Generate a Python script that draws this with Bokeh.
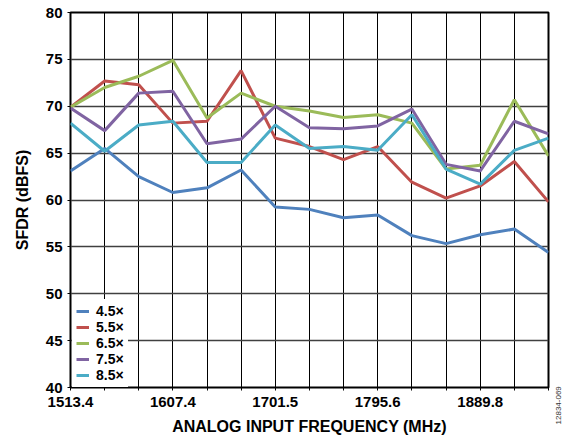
import math
from bokeh.plotting import figure
from bokeh.models import (FixedTicker, Legend, LegendItem, Range1d, Label)
from bokeh.embed import file_html
from bokeh.resources import INLINE

freq = [1513.4, 1544.8, 1576.1, 1607.4, 1638.8, 1670.1, 1701.5, 1732.9,
        1764.2, 1795.6, 1827.0, 1858.4, 1889.8, 1921.1, 1952.5]
x_tick_labels = ["1513.4", "", "", "1607.4", "", "", "1701.5", "", "",
                 "1795.6", "", "", "1889.8", "", ""]
y_ticks = [40, 45, 50, 55, 60, 65, 70, 75, 80]

series_names = ["4.5×", "5.5×", "6.5×", "7.5×", "8.5×"]
s45 = [63.1, 65.5, 62.5, 60.8, 61.3, 63.2, 59.25, 59.0, 58.1, 58.4, 56.2, 55.35, 56.3, 56.9, 54.4]
s55 = [69.9, 72.7, 72.3, 68.2, 68.4, 73.8, 66.6, 65.7, 64.3, 65.7, 61.9, 60.2, 61.5, 64.1, 59.8]
s65 = [69.9, 72.0, 73.2, 74.9, 68.75, 71.4, 70.0, 69.5, 68.8, 69.1, 68.2, 63.3, 63.7, 70.7, 64.7]
s75 = [69.8, 67.4, 71.4, 71.6, 66.0, 66.5, 70.0, 67.7, 67.6, 67.9, 69.7, 63.8, 63.1, 68.4, 67.05]
s85 = [68.2, 65.2, 68.0, 68.4, 64.0, 64.0, 68.0, 65.5, 65.7, 65.3, 69.1, 63.3, 61.7, 65.3, 66.6]
colors = ["#4F81BD", "#C0504D", "#9BBB59", "#8064A2", "#4BACC6"]

FONT = "Liberation Sans"

p = figure(width=569, height=442, output_backend="svg", toolbar_location=None,
           x_range=Range1d(freq[0], freq[-1]), y_range=Range1d(40, 80),
           min_border_left=70, min_border_right=21, min_border_top=12,
           min_border_bottom=55)

renderers = []
for name, ys, c in zip(series_names, [s45, s55, s65, s75, s85], colors):
    r = p.line(freq, ys, line_color=c, line_width=3)
    renderers.append(r)

p.outline_line_color = "black"
p.outline_line_width = 2
p.background_fill_color = "white"
p.border_fill_color = "white"

p.xaxis.ticker = FixedTicker(ticks=freq)
p.xaxis.major_label_overrides = {f: lab for f, lab in zip(freq, x_tick_labels)}
p.yaxis.ticker = FixedTicker(ticks=y_ticks)

for ax in (p.xaxis, p.yaxis):
    ax.major_label_text_font = FONT
    ax.major_label_text_font_style = "bold"
    ax.major_label_text_font_size = "15px"
    ax.major_label_text_color = "black"
    ax.axis_label_text_font = FONT
    ax.axis_label_text_font_style = "bold"
    ax.axis_label_text_font_size = "16px"
    ax.axis_label_text_color = "black"
    ax.major_tick_in = 0
    ax.major_tick_out = 3
    ax.major_tick_line_color = "black"
    ax.minor_tick_line_color = None
    ax.axis_line_color = None

p.xaxis.major_label_standoff = 6
p.yaxis.major_label_standoff = 5
p.xaxis.axis_label = "ANALOG INPUT FREQUENCY (MHz)"
p.yaxis.axis_label = "SFDR (dBFS)"
p.xaxis.axis_label_standoff = 8
p.yaxis.axis_label_standoff = 12

p.xgrid.grid_line_color = "black"
p.xgrid.grid_line_width = 1
p.ygrid.grid_line_color = "#404040"
p.ygrid.grid_line_width = 1.6

legend = Legend(items=[LegendItem(label=n, renderers=[r]) for n, r in zip(series_names, renderers)],
                location=(2, 0), margin=0, padding=4, spacing=0,
                glyph_width=13, glyph_height=14, label_height=14,
                label_standoff=7,
                label_text_font=FONT, label_text_font_style="bold",
                label_text_font_size="14px", label_text_color="black",
                background_fill_color="white", background_fill_alpha=1.0,
                border_line_alpha=0)
p.add_layout(legend, "center")

fig_id = Label(x=1961.7, y=38.1, text="12834-069", angle=math.pi / 2,
               text_align="center", text_baseline="middle",
               text_font=FONT, text_font_size="8px", text_color="#333333")
p.add_layout(fig_id, "right")

open("out.html", "w").write(file_html(p, INLINE))
